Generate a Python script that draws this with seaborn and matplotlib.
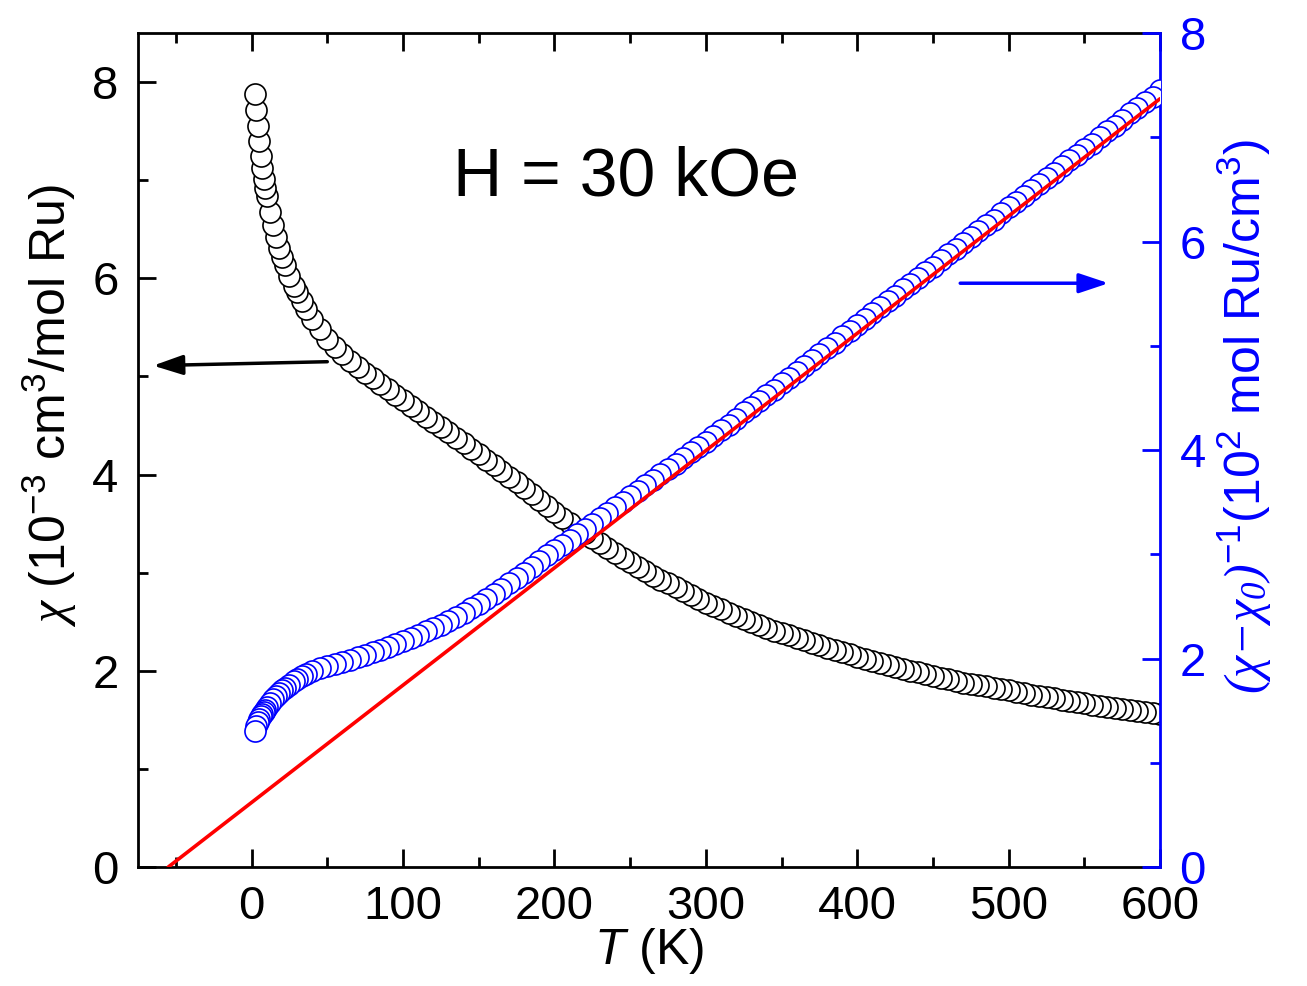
import matplotlib
matplotlib.use("Agg")
import matplotlib.pyplot as plt
import numpy as np
import pandas as pd
import seaborn as sns

# Temperature points (K)
temp = [2, 3, 4, 5, 6, 7, 8, 9, 10, 12, 14, 16, 18, 20, 22, 25, 28, 30, 33, 36, 40, 45, 50,
        55, 60, 65, 70, 75, 80, 85, 90, 95, 100, 105, 110, 115, 120, 125, 130, 135, 140, 145,
        150, 155, 160, 165, 170, 175, 180, 185, 190, 195, 200, 205, 210, 215, 220, 225, 230,
        235, 240, 245, 250, 255, 260, 265, 270, 275, 280, 285, 290, 295, 300, 305, 310, 315,
        320, 325, 330, 335, 340, 345, 350, 355, 360, 365, 370, 375, 380, 385, 390, 395, 400,
        405, 410, 415, 420, 425, 430, 435, 440, 445, 450, 455, 460, 465, 470, 475, 480, 485,
        490, 495, 500, 505, 510, 515, 520, 525, 530, 535, 540, 545, 550, 555, 560, 565, 570,
        575, 580, 585, 590, 595, 600]

# chi (1e-3 cm^3/mol Ru), left axis
chi = [7.88, 7.72, 7.55, 7.40, 7.25, 7.12, 7.01, 6.92, 6.84, 6.68, 6.54, 6.42, 6.31, 6.22, 6.14,
       6.02, 5.92, 5.86, 5.77, 5.69, 5.59, 5.48, 5.38,
       5.30, 5.23, 5.16, 5.10, 5.04, 4.98, 4.92, 4.87, 4.81, 4.76, 4.70, 4.65, 4.59, 4.54, 4.48,
       4.43, 4.37, 4.32, 4.26, 4.21, 4.15, 4.10, 4.04, 3.98, 3.92, 3.86, 3.80, 3.74, 3.68, 3.62,
       3.56, 3.51, 3.45, 3.40, 3.35, 3.30, 3.25, 3.20, 3.15, 3.11, 3.06, 3.02, 2.97, 2.93, 2.89,
       2.85, 2.81, 2.77, 2.73, 2.69, 2.66, 2.63, 2.59, 2.56, 2.53, 2.50, 2.47, 2.44, 2.41, 2.39,
       2.36, 2.33, 2.31, 2.28, 2.26, 2.23, 2.21, 2.19, 2.17, 2.14, 2.12, 2.10, 2.08, 2.06, 2.04,
       2.02, 2.00, 1.99, 1.97, 1.95, 1.93, 1.92, 1.90, 1.88, 1.87, 1.85, 1.84, 1.82, 1.81, 1.80,
       1.78, 1.77, 1.75, 1.74, 1.73, 1.72, 1.70, 1.69, 1.68, 1.67, 1.65, 1.64, 1.63, 1.62, 1.61,
       1.60, 1.59, 1.58, 1.57, 1.56]

# (chi - chi0)^-1 (1e2 mol Ru/cm^3), right axis
inv_chi = [1.30, 1.35, 1.39, 1.42, 1.45, 1.47, 1.49, 1.51, 1.53, 1.57, 1.61, 1.64, 1.67, 1.70,
           1.72, 1.75, 1.78, 1.80, 1.83, 1.85, 1.88, 1.91, 1.93,
           1.95, 1.97, 1.99, 2.01, 2.03, 2.06, 2.08, 2.11, 2.14, 2.17, 2.20, 2.23, 2.26, 2.29,
           2.32, 2.36, 2.40, 2.44, 2.48, 2.52, 2.57, 2.62, 2.67, 2.72, 2.77, 2.82, 2.88, 2.94,
           2.99, 3.04, 3.09, 3.14, 3.19, 3.24, 3.29, 3.35, 3.40, 3.45, 3.50, 3.56, 3.61, 3.66,
           3.71, 3.77, 3.82, 3.87, 3.92, 3.98, 4.03, 4.08, 4.13, 4.19, 4.24, 4.30, 4.36, 4.41,
           4.47, 4.53, 4.58, 4.64, 4.69, 4.75, 4.81, 4.86, 4.92, 4.98, 5.03, 5.09, 5.14, 5.20,
           5.26, 5.31, 5.37, 5.43, 5.48, 5.54, 5.59, 5.65, 5.71, 5.76, 5.82, 5.88, 5.93, 5.99,
           6.04, 6.10, 6.16, 6.21, 6.27, 6.33, 6.38, 6.44, 6.49, 6.55, 6.61, 6.66, 6.72, 6.78,
           6.83, 6.89, 6.94, 7.00, 7.06, 7.11, 7.17, 7.23, 7.28, 7.34, 7.39, 7.45]

# Curie-Weiss fit line (endpoints)
fit_T = [-55, 600]
fit_val = [0.0, 7.37]

# plot high T first so the low-T circles sit on top, like the original
df = pd.DataFrame({"T": temp, "chi": chi, "inv": inv_chi}).iloc[::-1]

sns.set_style("ticks")
plt.rcParams["font.family"] = ["Liberation Sans", "DejaVu Sans"]
plt.rcParams["mathtext.fontset"] = "custom"
plt.rcParams["mathtext.rm"] = "Liberation Sans"
plt.rcParams["mathtext.it"] = "Liberation Sans:italic"
plt.rcParams["mathtext.sf"] = "Liberation Serif:italic"
for key in ["text.color", "axes.labelcolor", "xtick.color", "ytick.color", "axes.edgecolor"]:
    plt.rcParams[key] = "black"

TICK_FS = 34
LABEL_FS = 36
fig = plt.figure(figsize=(13.07, 9.86), dpi=100)
ax = fig.add_axes([0.1056, 0.1207, 0.782, 0.8458])
ax2 = ax.twinx()

sns.scatterplot(data=df, x="T", y="chi", ax=ax, marker="o", s=230, color="white",
                edgecolor="black", linewidth=1.2, zorder=3)
sns.scatterplot(data=df, x="T", y="inv", ax=ax2, marker="o", s=230, color="white",
                edgecolor="blue", linewidth=1.2, zorder=3)
ax2.plot(fit_T, fit_val, color="red", lw=2.6, zorder=4)

ax.set_xlim(-75, 600)
ax.set_ylim(0, 8.5)
ax2.set_ylim(0, 8)

ax.set_xticks([0, 100, 200, 300, 400, 500, 600])
ax.set_xticks([-50, 50, 150, 250, 350, 450, 550], minor=True)
ax.set_yticks([0, 2, 4, 6, 8])
ax.set_yticks([1, 3, 5, 7], minor=True)
ax2.set_yticks([0, 2, 4, 6, 8])
ax2.set_yticks([1, 3, 5, 7], minor=True)

for sp in ax.spines.values():
    sp.set_linewidth(2)
ax.spines["right"].set_visible(False)
for name in ["left", "top", "bottom"]:
    ax2.spines[name].set_visible(False)
ax2.spines["right"].set_color("blue")
ax2.spines["right"].set_linewidth(2)

ax.tick_params(axis="x", which="both", direction="in", top=True, bottom=True,
               labelsize=TICK_FS, pad=13, width=2)
ax.tick_params(axis="y", which="both", direction="in", left=True, right=False,
               labelsize=TICK_FS, pad=14, width=2)
ax.tick_params(which="major", length=13)
ax.tick_params(which="minor", length=7)
ax2.tick_params(axis="y", which="both", direction="in", right=True, left=False,
                labelsize=TICK_FS, pad=14, width=2, color="blue", labelcolor="blue")
ax2.tick_params(which="major", length=13)
ax2.tick_params(which="minor", length=7)

ax.set_xlabel(r"$\mathit{T}$ (K)", fontsize=LABEL_FS, labelpad=-2)
ax.set_ylabel(r"$\mathsf{\chi}$ (10$^{-3}$ cm$^{3}$/mol Ru)", fontsize=LABEL_FS)
ax.yaxis.set_label_coords(-0.058, 0.554)
ax2.set_ylabel(r"$\mathsf{(\chi{-}\chi_0)}^{-1}$(10$^{2}$ mol Ru/cm$^{3}$)",
               fontsize=LABEL_FS, color="blue")
ax2.yaxis.set_label_coords(1.054, 0.54)

ax.text(247, 6.84, "H = 30 kOe", fontsize=49, ha="center", va="baseline")

ax.annotate("", xy=(-65, 5.11), xytext=(50, 5.15),
            arrowprops=dict(arrowstyle="-|>,head_length=0.9,head_width=0.3",
                            color="black", lw=2.5, mutation_scale=20, shrinkA=0, shrinkB=0))
ax2.annotate("", xy=(566, 5.60), xytext=(468, 5.60),
             arrowprops=dict(arrowstyle="-|>,head_length=0.9,head_width=0.3",
                             color="blue", lw=2.5, mutation_scale=20, shrinkA=0, shrinkB=0))

fig.savefig("out.png", dpi=100)
